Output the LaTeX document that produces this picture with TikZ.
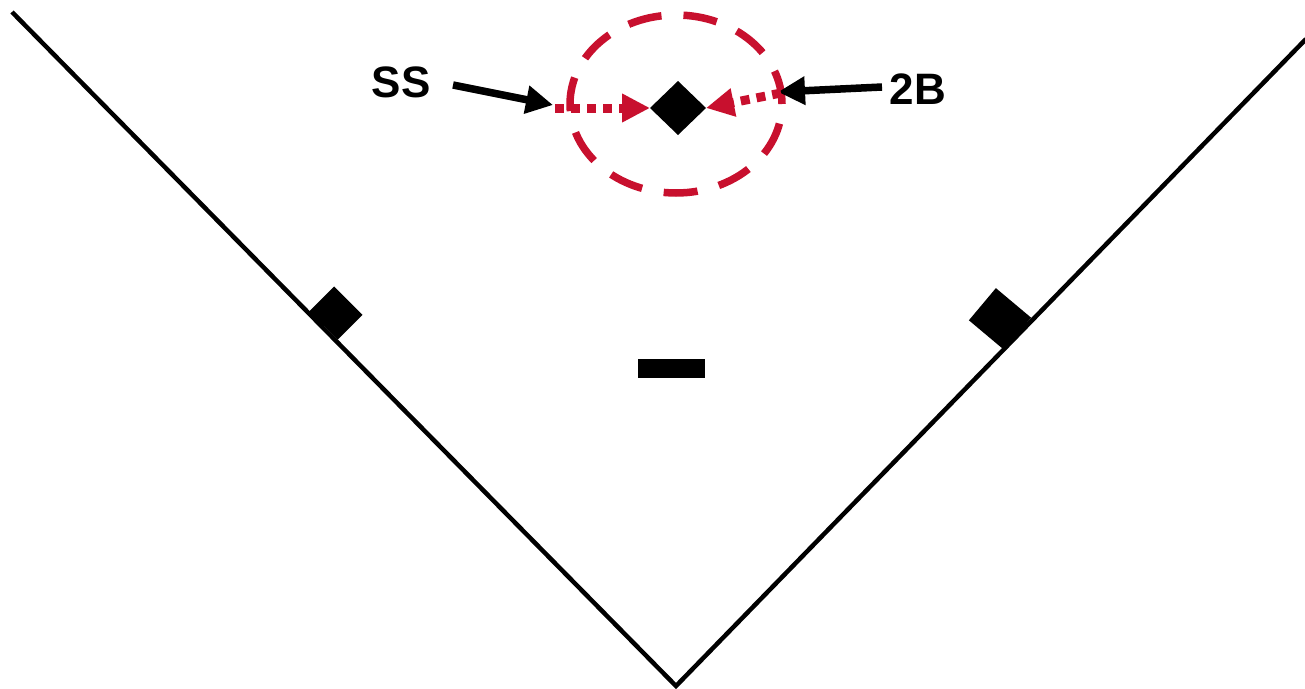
\documentclass[tikz,border=0pt]{standalone}
\usepackage{fontspec}
\setmainfont{Liberation Sans}
\usetikzlibrary{shapes.geometric,arrows.meta}
\definecolor{crim}{RGB}{200,16,46}
\tikzset{
  field/.style={line width=4.5pt, line join=miter},
  basebag/.style={fill=black, draw=none, inner sep=0pt, outer sep=0pt},
  lbl/.style={font=\fontsize{44}{50}\selectfont\bfseries, inner sep=0pt},
  blkarrow/.style={line width=7.5pt, -{Triangle[length=27pt,width=27pt]}},
  redarrow/.style={crim, line width=9pt, dash pattern=on 9pt off 7pt, -{Triangle[length=28pt,width=27pt]}},
  zone/.style={draw=crim, line width=7.5pt, dash pattern=on 34pt off 22pt, ellipse, minimum width=212pt, minimum height=178pt, inner sep=0pt}
}
\begin{document}
\begin{tikzpicture}[x=1pt,y=-1pt]
\useasboundingbox (0,0) rectangle (1305,688);
% foul lines
\coordinate (lf) at (12,12);
\coordinate (rf) at (1306,39);
\coordinate (home) at (676,686);
\draw[field] (lf) -- (home) -- (rf);
% bases
\node[basebag, minimum width=40pt, minimum height=35pt, rotate=-45] (third) at (336,313) {};
\node[basebag, minimum width=46pt, minimum height=42pt, rotate=-40] (first) at (1000,319) {};
\node[basebag, diamond, aspect=1, minimum width=56pt, minimum height=54pt] (second) at (678,108) {};
% pitcher's rubber
\node[fill=black, minimum width=67pt, minimum height=19pt, inner sep=0pt] (rubber) at (671.5,368.5) {};
% zone
\node[zone] (zone) at (676,104) {};
% labels
\node[lbl] (ss) at (401,82) {SS};
\node[lbl] (tb) at (918,89) {2B};
% black arrows
\coordinate (ssA) at (453,85);
\coordinate (ssB) at (553,105);
\coordinate (tbA) at (882,87);
\coordinate (tbB) at (778,92);
\draw[blkarrow] (ssA) -- (ssB);
\draw[blkarrow] (tbA) -- (tbB);
% red dotted arrows
\coordinate (rL) at (555,108);
\coordinate (rR) at (781,93);
\draw[redarrow] (rL) -- (second.west);
\draw[redarrow] (rR) -- (second.east);
\end{tikzpicture}
\end{document}
